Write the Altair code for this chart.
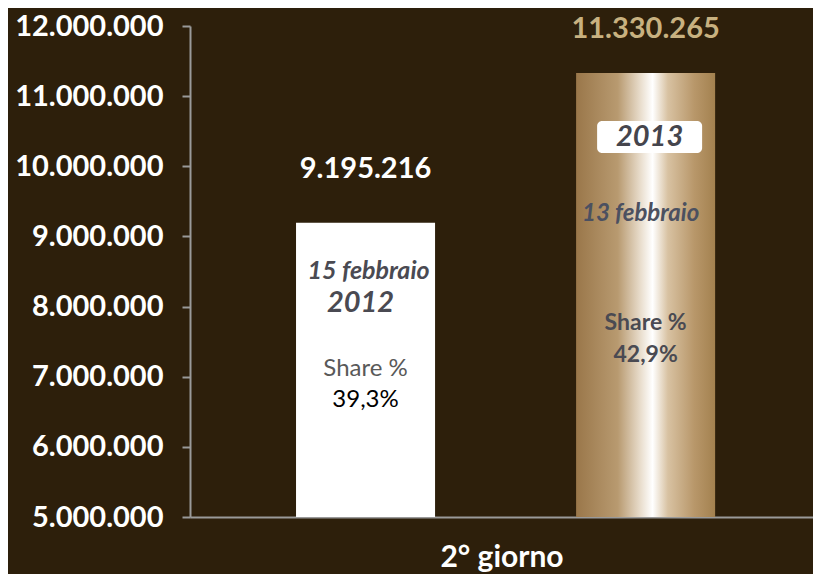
import altair as alt
import pandas as pd

years = ["2012", "2013"]
values = [9195216, 11330265]
value_labels = ["9.195.216", "11.330.265"]
dates = ["15 febbraio", "13 febbraio"]
shares = ["39,3%", "42,9%"]
group_label = "2° giorno"
y_ticks = [5000000, 6000000, 7000000, 8000000, 9000000, 10000000, 11000000, 12000000]

df = pd.DataFrame({
    "year": years,
    "value": values,
    "vlabel": value_labels,
    "date": dates,
    "share": shares,
    "sharetxt": ["Share %", "Share %"],
})

FONT = "Lato"
BG = "#2d1f0b"

x = alt.X("year:N", title=group_label,
          scale=alt.Scale(paddingInner=0.5036, paddingOuter=0.364, align=0.52),
          axis=alt.Axis(labels=False, ticks=False, domainColor="#9a9a9a", domainWidth=2,
                        titleColor="white", titleFont=FONT, titleFontSize=30,
                        titleFontWeight="bold", titlePadding=25))
y = alt.Y("value:Q", title=None,
          scale=alt.Scale(domain=[5000000, 12000000], zero=False, nice=False),
          axis=alt.Axis(values=y_ticks, labelExpr="replace(format(datum.value, ',d'), /,/g, '.')",
                        labelColor="white", labelFont=FONT, labelFontSize=29, labelFontWeight="bold",
                        labelPadding=19, tickSize=8, tickColor="#9a9a9a", tickWidth=2,
                        domainColor="#9a9a9a", domainWidth=2, grid=False))

base = alt.Chart(df)
f12 = base.transform_filter(alt.datum.year == "2012")
f13 = base.transform_filter(alt.datum.year == "2013")

bar2012 = f12.mark_bar(color="white", clip=True).encode(x=x, y=y)
bar2013 = f13.mark_bar(
    clip=True,
    color=alt.Gradient(gradient="linear", x1=0, x2=1, y1=0, y2=0,
                       stops=[alt.GradientStop(color="#9a774a", offset=0),
                              alt.GradientStop(color="#b89a70", offset=0.3),
                              alt.GradientStop(color="#e8dccb", offset=0.46),
                              alt.GradientStop(color="#ffffff", offset=0.55),
                              alt.GradientStop(color="#d8c2a2", offset=0.66),
                              alt.GradientStop(color="#b8976a", offset=0.85),
                              alt.GradientStop(color="#a3814f", offset=1)])
).encode(x=x, y=y)

lab2012 = f12.mark_text(font=FONT, fontSize=29, fontWeight="bold", color="white", dy=-54
                        ).encode(x=x, y=y, text="vlabel:N")
lab2013 = f13.mark_text(font=FONT, fontSize=29, fontWeight="bold", color="#c8b180", dy=-44
                        ).encode(x=x, y=y, text="vlabel:N")

d12 = f12.mark_text(font=FONT, fontSize=25, fontWeight="bold", fontStyle="italic",
                    color="#4a4a52", dx=3, dy=48).encode(x=x, y=y, text="date:N")
y12 = f12.mark_text(font=FONT, fontSize=29, fontWeight="bold", fontStyle="italic",
                    color="#4a4a52", dx=-5, dy=80).encode(x=x, y=y, text="year:N")
s12 = f12.mark_text(font=FONT, fontSize=24, color="#595959", dy=146).encode(x=x, y=y, text="sharetxt:N")
p12 = f12.mark_text(font=FONT, fontSize=24, color="black", dy=177).encode(x=x, y=y, text="share:N")

box13 = f13.mark_rect(color="white", width=105, height=32, cornerRadius=5, yOffset=64, xOffset=4).encode(x=x, y=y)
y13 = f13.mark_text(font=FONT, fontSize=29, fontWeight="bold", fontStyle="italic",
                    color="#45454d", dx=4, dy=64).encode(x=x, y=y, text="year:N")
d13 = f13.mark_text(font=FONT, fontSize=24, fontWeight="bold", fontStyle="italic",
                    color="#4b5060", dx=-5, dy=141).encode(x=x, y=y, text="date:N")
s13 = f13.mark_text(font=FONT, fontSize=23, fontWeight="bold", color="#4a4a52", dy=250).encode(x=x, y=y, text="sharetxt:N")
p13 = f13.mark_text(font=FONT, fontSize=23, fontWeight="bold", color="#4a4a52", dy=282).encode(x=x, y=y, text="share:N")

chart = alt.layer(bar2012, bar2013, lab2012, lab2013, d12, y12, s12, p12, box13, y13, d13, s13, p13).properties(
    width=623, height=491,
    autosize=alt.AutoSizeParams(type="none"),
    padding={"left": 182, "top": 18, "right": 0, "bottom": 57},
    background=BG,
).configure_view(stroke=None)

chart.save("out.html", embed_options={"renderer": "svg", "actions": False})
